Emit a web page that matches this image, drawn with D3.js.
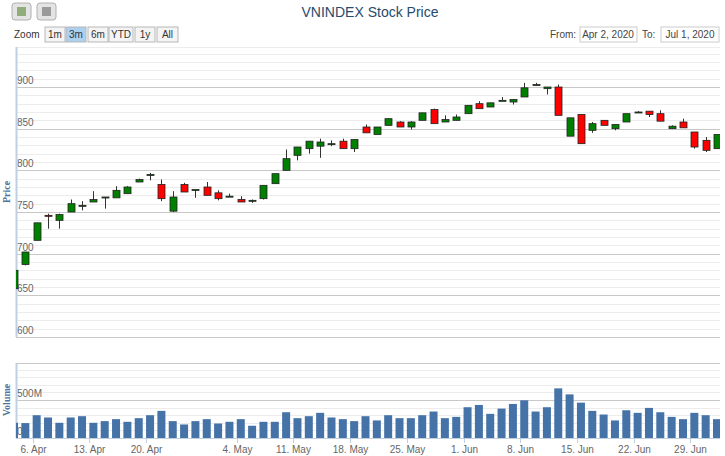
<!DOCTYPE html>
<html><head><meta charset="utf-8">
<script src="https://cdn.jsdelivr.net/npm/d3@7"></script>
<style>
body{margin:0;background:#fff;font-family:"Liberation Sans",Arial,sans-serif;}
</style></head><body>
<script>
var dates = ["2020-04-02","2020-04-03","2020-04-06","2020-04-07","2020-04-08","2020-04-09","2020-04-10",
 "2020-04-13","2020-04-14","2020-04-15","2020-04-16","2020-04-17","2020-04-20","2020-04-21","2020-04-22",
 "2020-04-23","2020-04-24","2020-04-27","2020-04-28","2020-04-29","2020-05-04","2020-05-05","2020-05-06",
 "2020-05-07","2020-05-08","2020-05-11","2020-05-12","2020-05-13","2020-05-14","2020-05-15","2020-05-18",
 "2020-05-19","2020-05-20","2020-05-21","2020-05-22","2020-05-25","2020-05-26","2020-05-27","2020-05-28",
 "2020-05-29","2020-06-01","2020-06-02","2020-06-03","2020-06-04","2020-06-05","2020-06-08","2020-06-09",
 "2020-06-10","2020-06-11","2020-06-12","2020-06-15","2020-06-16","2020-06-17","2020-06-18","2020-06-19",
 "2020-06-22","2020-06-23","2020-06-24","2020-06-25","2020-06-26","2020-06-29","2020-06-30","2020-07-01"];
var open  = [658,687,716,746,740,750,758,762,768,767,772,786,795,783,751,783,777,780,773,769,765,764,766,784,800,818,826,829,832,835,826,852,843,854,858,852,860,873,858,860,868,880,876,884,882,888,903,898,900,841,867,848,860,850,858,870,871,868,850,858,846,836,826];
var close = [680,702,737,745,747,760,758,765,768,776,780,789,795,766,768,774,777,770,766,769,762,764,782,796,814,828,835,834,832,826,837,845,852,862,852,858,869,856,861,864,878,874,881,884,885,899,903,900,866,863,832,856,854,855,868,870,867,859,853,851,828,824,843];
var high  = [680,702,737,748,748,765,763,775,768,781,781,790,797,789,775,785,777,786,776,772,769,765,782,796,825,828,835,838,836,838,837,855,852,862,859,859,869,874,866,867,878,883,881,888,885,905,905,900,903,863,867,858,860,855,868,871,871,872,854,862,846,840,843];
var low   = [658,686,716,730,730,750,752,762,754,767,772,786,788,763,750,774,767,770,764,768,762,761,765,784,800,812,820,815,829,826,822,845,843,854,852,849,860,856,858,860,868,874,876,884,879,888,902,891,866,841,832,845,854,848,858,869,864,859,850,851,826,822,826];
var volume = [200,196,300,270,200,270,287,200,222,248,213,261,300,357,222,178,222,248,191,213,248,161,213,213,339,261,287,331,270,248,222,287,231,300,261,261,300,348,261,278,405,435,318,387,448,496,348,405,653,574,465,357,309,231,365,331,396,339,278,248,331,300,248];
var tickDates = ["2020-04-06","2020-04-13","2020-04-20","2020-05-04","2020-05-11","2020-05-18","2020-05-25","2020-06-01","2020-06-08","2020-06-15","2020-06-22","2020-06-29"];
var priceTicks = [600,650,700,750,800,850,900];
var volTicks = [0,500];

var W = 725, H = 456, left = 16, right = 720;
var svg = d3.select('body').append('svg').attr('width', W).attr('height', H)
  .style('font-family','"Liberation Sans",Arial,sans-serif');

var x = d3.scaleLinear().domain([0, dates.length - 1]).range([14, 717]);
var y = d3.scaleLinear().domain([600, 948]).range([337, 47]);
var yv = d3.scaleLinear().domain([0, 987]).range([438, 363]);

svg.append('defs').append('clipPath').attr('id','clip')
  .append('rect').attr('x', left).attr('y', 40).attr('width', right - left).attr('height', 400);

// title
svg.append('text').attr('x', 370).attr('y', 17).attr('text-anchor','middle')
  .style('font-size','14px').attr('fill','#274b6d').text('VNINDEX Stock Price');

// export buttons
[12, 37].forEach(function(bx, i){
  svg.append('rect').attr('x', bx).attr('y', 3).attr('width', 19).attr('height', 17).attr('rx', 3)
    .attr('fill', '#e4e4e4').attr('stroke', '#b0b0b0');
  svg.append('rect').attr('x', bx + 5).attr('y', 7).attr('width', 9).attr('height', 9)
    .attr('fill', i ? '#9a9a9a' : '#8fae7c');
});

// range selector
svg.append('text').attr('x', 14).attr('y', 38).style('font-size','10px').attr('fill','#333').text('Zoom');
var btns = [['1m',45,20],['3m',66,20],['6m',88,20],['YTD',109,24],['1y',135,20],['All',157,21]];
btns.forEach(function(b){
  svg.append('rect').attr('x', b[1]).attr('y', 27).attr('width', b[2]).attr('height', 15)
    .attr('fill', b[0] == '3m' ? '#acd0f0' : '#f4f4f4').attr('stroke', '#b8b8b8');
  svg.append('text').attr('x', b[1] + b[2] / 2).attr('y', 38).attr('text-anchor','middle')
    .style('font-size','10px').attr('fill','#333').text(b[0]);
});
svg.append('text').attr('x', 550).attr('y', 38).style('font-size','10px').attr('fill','#444').text('From:');
svg.append('rect').attr('x', 580).attr('y', 27).attr('width', 57).attr('height', 15).attr('fill','#fff').attr('stroke','#ccc');
svg.append('text').attr('x', 608).attr('y', 38).attr('text-anchor','middle').style('font-size','10px').attr('fill','#444').text('Apr 2, 2020');
svg.append('text').attr('x', 642).attr('y', 38).style('font-size','10px').attr('fill','#444').text('To:');
svg.append('rect').attr('x', 661).attr('y', 27).attr('width', 58).attr('height', 15).attr('fill','#fff').attr('stroke','#ccc');
svg.append('text').attr('x', 690).attr('y', 38).attr('text-anchor','middle').style('font-size','10px').attr('fill','#444').text('Jul 1, 2020');

// price grid
var minor = d3.range(600, 950, 10);
svg.selectAll('.pminor').data(minor).enter().append('line')
  .attr('x1', left).attr('x2', right).attr('y1', function(d){ return Math.round(y(d)) + 0.5; })
  .attr('y2', function(d){ return Math.round(y(d)) + 0.5; })
  .attr('stroke', function(d){ return d % 50 == 0 ? '#c8c8c8' : '#ececec'; });
svg.append('line').attr('x1', left).attr('x2', right).attr('y1', 47.5).attr('y2', 47.5).attr('stroke','#ececec');
svg.selectAll('.plab').data(priceTicks).enter().append('text')
  .attr('x', 17).attr('y', function(d){ return y(d) - 3; })
  .style('font-size','10px').attr('fill','#666').text(function(d){ return d; });
svg.append('line').attr('x1', left + .5).attr('x2', left + .5).attr('y1', 47).attr('y2', 337).attr('stroke','#c0d0e0').attr('stroke-width', 2);
svg.append('text').attr('transform','translate(10,192) rotate(-90)').attr('text-anchor','middle')
  .style('font-size','10px').style('font-weight','bold').style('font-family','"Liberation Serif",serif')
  .attr('fill','#4d759e').text('Price');

// volume grid
d3.range(0, 1000, 100).forEach(function(d){
  var yy = Math.round(yv(d)) + 0.5;
  svg.append('line').attr('x1', left).attr('x2', right).attr('y1', yy).attr('y2', yy)
    .attr('stroke', d % 500 == 0 ? '#c8c8c8' : '#ececec');
});
svg.append('line').attr('x1', left).attr('x2', right).attr('y1', 363.5).attr('y2', 363.5).attr('stroke','#c8c8c8');
svg.selectAll('.vlab').data(volTicks).enter().append('text')
  .attr('x', 17).attr('y', function(d){ return yv(d) - 3; })
  .style('font-size','10px').attr('fill','#666').text(function(d){ return d ? d + 'M' : '0'; });
svg.append('line').attr('x1', left + .5).attr('x2', left + .5).attr('y1', 363).attr('y2', 438).attr('stroke','#c0d0e0').attr('stroke-width', 2);
svg.append('text').attr('transform','translate(10,400) rotate(-90)').attr('text-anchor','middle')
  .style('font-size','10px').style('font-weight','bold').style('font-family','"Liberation Serif",serif')
  .attr('fill','#4d759e').text('Volume');

var g = svg.append('g').attr('clip-path','url(#clip)');

// volume bars
g.selectAll('.vol').data(volume).enter().append('rect')
  .attr('x', function(d, i){ return x(i) - 4; }).attr('width', 8)
  .attr('y', function(d){ return yv(d); }).attr('height', function(d){ return yv(0) - yv(d); })
  .attr('fill', '#4572a7');

// candles
var idx = d3.range(dates.length);
g.selectAll('.wick').data(idx).enter().append('line')
  .attr('x1', function(i){ return Math.round(x(i)) + .5; }).attr('x2', function(i){ return Math.round(x(i)) + .5; })
  .attr('y1', function(i){ return y(high[i]); }).attr('y2', function(i){ return y(low[i]); })
  .attr('stroke', '#333');
g.selectAll('.body').data(idx).enter().append('rect')
  .attr('x', function(i){ return Math.round(x(i)) - 3; }).attr('width', 7)
  .attr('y', function(i){ return y(Math.max(open[i], close[i])); })
  .attr('height', function(i){ return Math.max(1, Math.abs(y(open[i]) - y(close[i]))); })
  .attr('fill', function(i){ return close[i] >= open[i] ? 'green' : 'red'; })
  .attr('stroke', '#222').attr('stroke-width', .8);

// x axis
var parse = d3.timeParse('%Y-%m-%d');
svg.append('line').attr('x1', left).attr('x2', right).attr('y1', 438.5).attr('y2', 438.5).attr('stroke','#c0d0e0');
tickDates.forEach(function(t){
  var xx = Math.round(x(dates.indexOf(t))) - 4 + .5;
  svg.append('line').attr('x1', xx).attr('x2', xx).attr('y1', 438).attr('y2', 443).attr('stroke','#c0d0e0');
  svg.append('text').attr('x', xx).attr('y', 453).attr('text-anchor','middle')
    .style('font-size','10px').attr('fill','#666').text(d3.timeFormat('%-d. %b')(parse(t)));
});
</script>
</body></html>
